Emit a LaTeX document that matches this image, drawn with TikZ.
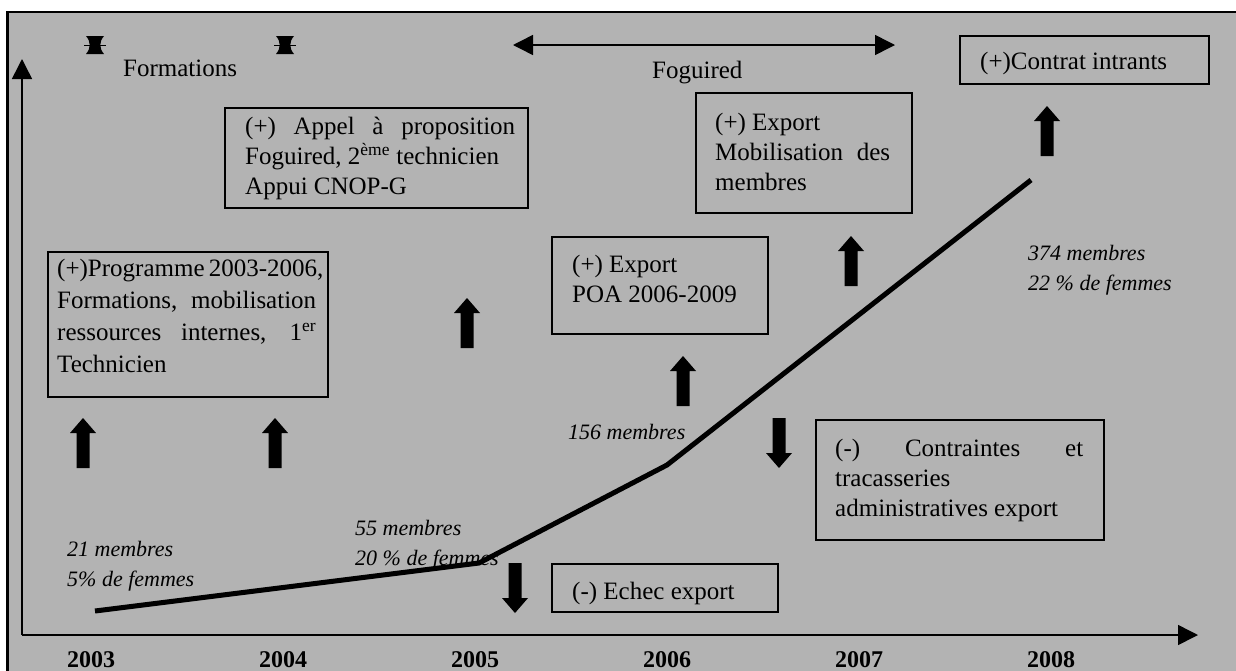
\documentclass[tikz,border=0pt]{standalone}
\usepackage{fontspec}
\setmainfont{Liberation Serif}
\usetikzlibrary{arrows.meta}
\definecolor{panel}{RGB}{179,179,179}
\newcommand\jline[2]{\makebox[#1][s]{#2}}
\begin{document}
\begin{tikzpicture}[x=1pt,y=-1pt,
  box/.style={draw, line width=1.6pt, inner sep=0pt, anchor=north west},
  txt/.style={anchor=north west, inner sep=0pt, align=left, font=\fontsize{25}{30}\selectfont},
  note/.style={anchor=north west, inner sep=0pt, align=left, font=\fontsize{22}{30}\selectfont\itshape},
  year/.style={anchor=base, inner sep=0pt, font=\fontsize{24}{28}\selectfont\bfseries},
  bigtip/.tip={Triangle[length=20pt,width=20pt]},
  uparrow/.pic={\fill (-6.5,25) -- (-6.5,-10) -- (-13,-10) -- (0,-25) -- (13,-10) -- (6.5,-10) -- (6.5,25) -- cycle;},
  tiemark/.pic={\fill (-9,-9) -- (9,-9) .. controls (4,-3) and (4,3) .. (9,9) -- (-9,9) .. controls (-4,3) and (-4,-3) .. (-9,-9) -- cycle;
                \draw[line width=1pt] (-11,0) -- (11,0);}
]
\useasboundingbox (0,0) rectangle (1236,670);
\fill[white] (0,0) rectangle (1236,670);
\clip (0,0) rectangle (1236,670);
% outer panel
\draw[line width=2.5pt, fill=panel] (7.5,12) rectangle (1260,700);

% axes
\coordinate (O) at (22,635);
\coordinate (xe) at (1198,635);
\coordinate (ye) at (22,59);
\draw[line width=1.5pt, -{bigtip}] (O) -- (xe);
\draw[line width=1.5pt, -{bigtip}] (O) -- (ye);

% years
\node[year] (y03) at (91,667) {2003};
\node[year] (y04) at (283,667) {2004};
\node[year] (y05) at (475,667) {2005};
\node[year] (y06) at (667,667) {2006};
\node[year] (y07) at (859,667) {2007};
\node[year] (y08) at (1051,667) {2008};

% training period and Foguired period
\pic at (95,45) {tiemark};
\pic at (285,45) {tiemark};
\node[txt] (form) at (123,60) {Formations};
\coordinate (fa) at (513,45);
\coordinate (fb) at (895,45);
\draw[line width=1.5pt, {bigtip}-{bigtip}] (fa) -- (fb);
\node[txt] (fog) at (652,61) {Foguired};

% membership curve
\coordinate (p03) at (95,611);
\coordinate (p05) at (479,563);
\coordinate (p06) at (667,465);
\coordinate (p08) at (1031,180);
\draw[line width=5pt] (p03) -- (p05) -- (p06) -- (p08);

\node[note] (n03) at (67,541) {21 membres\\5\% de femmes};
\node[note] (n05) at (355,520) {55 membres\\20 \% de femmes};
\node[note] (n06) at (568,424) {156 membres};
\node[note] (n08) at (1028,245) {374 membres\\22 \% de femmes};

% event boxes
\node[box, minimum width=280pt, minimum height=145pt] (b1) at (47,251) {};
\node[txt, font=\fontsize{25}{32}\selectfont] (t1) at (57,259) {\jline{259pt}{(+)Programme 2003-2006,}\\\jline{259pt}{Formations, mobilisation}\\\jline{259pt}{ressources internes, 1\textsuperscript{er}}\\Technicien};

\node[box, minimum width=303pt, minimum height=100pt] (b2) at (224,107) {};
\node[txt] (t2) at (245,117) {\jline{270pt}{(+) Appel à proposition}\\Foguired, 2\textsuperscript{ème} technicien\\Appui CNOP-G};

\node[box, minimum width=216pt, minimum height=97pt] (b3) at (551,236) {};
\node[txt] (t3) at (572,255) {(+) Export\\POA 2006-2009};

\node[box, minimum width=216pt, minimum height=120pt] (b4) at (695,92) {};
\node[txt] (t4) at (715,113) {(+) Export\\\jline{175pt}{Mobilisation des}\\membres};

\node[box, minimum width=249pt, minimum height=48pt] (b5) at (959,35) {};
\node[txt] (t5) at (980,52) {(+)Contrat intrants};

\node[box, minimum width=288pt, minimum height=120pt] (b6) at (815,419) {};
\node[txt] (t6) at (835,439) {\jline{248pt}{(-) Contraintes et}\\tracasseries\\administratives export};

\node[box, minimum width=226pt, minimum height=48pt] (b7) at (551,563) {};
\node[txt] (t7) at (572,582) {(-) Echec export};

% positive and negative influences
\pic at (83,443) {uparrow};
\pic at (275,443) {uparrow};
\pic at (467,323) {uparrow};
\pic at (683,381) {uparrow};
\pic at (851,261) {uparrow};
\pic at (1047,131) {uparrow};
\pic[rotate=180] at (515,588) {uparrow};
\pic[rotate=180] at (779,443) {uparrow};
\end{tikzpicture}
\end{document}
